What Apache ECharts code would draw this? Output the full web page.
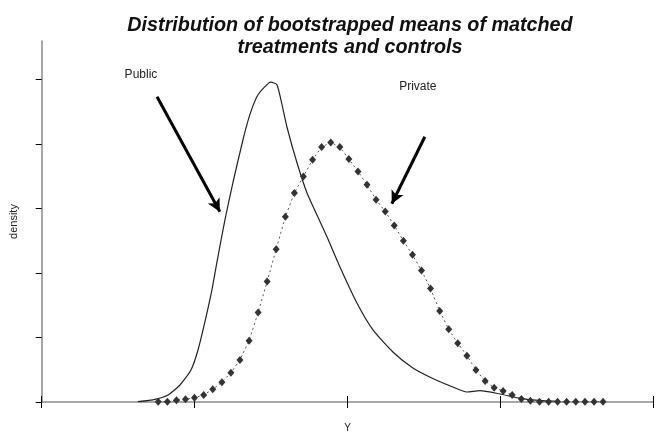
<!DOCTYPE html>
<html>
<head>
<meta charset="utf-8">
<script src="https://cdn.jsdelivr.net/npm/echarts@6/dist/echarts.min.js"></script>
<style>html,body{margin:0;padding:0;background:#fff}#c{width:657px;height:434px}</style>
</head>
<body>
<div id="c"></div>
<script>
// ---- data ----
var titleLines = ['Distribution of bootstrapped means of matched', 'treatments and controls'];
var xName = 'Y';
var yName = 'density';
var xTicks = [0, 1, 2, 3, 4];
var yTicks = [0, 1, 2, 3, 4, 5];

var publicX = [0.629,0.741,0.826,0.904,0.976,1.022,1.067,1.113,1.152,1.198,1.250,1.316,1.361,1.407,1.453,1.498,1.538,1.571,1.603,1.669,1.734,1.793,1.865,1.950,2.061,2.166,2.296,2.427,2.557,2.688,2.780,2.865,2.996,3.126,3.276,3.387];
var publicY = [0.005,0.042,0.109,0.264,0.497,0.807,1.242,1.739,2.252,2.826,3.401,4.068,4.457,4.736,4.876,4.961,4.922,4.612,4.270,3.711,3.245,2.935,2.562,2.096,1.537,1.118,0.776,0.528,0.365,0.233,0.155,0.175,0.124,0.057,0.020,0.008];

var privateX = [0.762,0.822,0.881,0.940,0.999,1.059,1.118,1.178,1.237,1.296,1.356,1.415,1.474,1.533,1.593,1.652,1.711,1.771,1.830,1.890,1.949,2.008,2.068,2.127,2.186,2.246,2.305,2.365,2.424,2.483,2.542,2.602,2.661,2.720,2.780,2.839,2.899,2.958,3.017,3.076,3.136,3.195,3.255,3.314,3.373,3.432,3.492,3.552,3.611,3.670];
var privateY = [0.005,0.005,0.026,0.042,0.067,0.109,0.197,0.306,0.455,0.652,0.952,1.387,1.868,2.371,2.873,3.241,3.499,3.758,3.955,4.027,3.955,3.768,3.576,3.370,3.137,2.955,2.738,2.500,2.283,2.039,1.760,1.413,1.128,0.911,0.719,0.497,0.326,0.222,0.171,0.109,0.047,0.020,0.005,0.005,0.005,0.005,0.005,0.005,0.005,0.005];

// annotation anchors (data coordinates)
var labelNames = ['Public', 'Private'];
var labelPos = [[0.649, 5.078], [2.459, 4.891]];
var arrowFrom = [[0.754, 4.736], [2.505, 4.115]];
var arrowTo = [[1.165, 2.950], [2.289, 3.075]];

function pairs(xs, ys) { return xs.map(function (x, i) { return [x, ys[i]]; }); }

var chart = echarts.init(document.getElementById('c'), null, { renderer: 'canvas' });
var axisGray = '#8a8a8a';
var font = '"Liberation Sans", Arial, sans-serif';

chart.setOption({
  animation: false,
  backgroundColor: '#fff',
  graphic: [{
    type: 'text',
    x: 350, y: 14,
    scaleX: 0.94,
    style: {
      text: titleLines.join('\n'),
      textAlign: 'center', textVerticalAlign: 'top',
      fontFamily: '"Liberation Sans", Arial, sans-serif',
      fontStyle: 'italic', fontWeight: 'bold',
      fontSize: 21, lineHeight: 22,
      fill: '#111'
    }
  }],
  grid: { left: 41.7, right: 3.5, top: 41, bottom: 32, containLabel: false, outerBoundsMode: 'none' },
  xAxis: [{
    type: 'value', min: xTicks[0], max: xTicks[xTicks.length - 1], interval: 1,
    name: xName, nameLocation: 'middle', nameGap: 21,
    nameTextStyle: { fontFamily: font, fontSize: 10, color: '#222' },
    axisLine: { show: true, onZero: false, lineStyle: { color: axisGray, width: 1.5 } },
    axisTick: { show: true, inside: false, length: 6, lineStyle: { color: '#000', width: 1 } },
    axisLabel: { show: false }, splitLine: { show: false }
  }, {
    type: 'value', min: xTicks[0], max: xTicks[xTicks.length - 1], interval: 1, position: 'bottom',
    axisLine: { show: false },
    axisTick: { show: true, inside: true, length: 6, lineStyle: { color: '#000', width: 1 } },
    axisLabel: { show: false }, splitLine: { show: false }
  }],
  yAxis: {
    type: 'value', min: 0, max: 5.6,
    name: yName, nameLocation: 'middle', nameGap: 22,
    nameTextStyle: { fontFamily: font, fontSize: 11, color: '#222' },
    axisLine: { show: true, onZero: false, lineStyle: { color: axisGray, width: 1.5 } },
    axisTick: { show: true, inside: false, length: 6, customValues: yTicks, lineStyle: { color: '#000', width: 1 } },
    axisLabel: { show: false }, splitLine: { show: false }
  },
  series: [{
    name: 'Public', type: 'line', xAxisIndex: 0,
    data: pairs(publicX, publicY),
    showSymbol: false, smooth: 0.2,
    lineStyle: { color: '#222', width: 1.2 },
    z: 3,
    markLine: {
      silent: true, symbol: ['none', 'arrow'], symbolSize: [10, 13],
      label: { show: false },
      lineStyle: { color: '#000', width: 3, type: 'solid' },
      data: arrowFrom.map(function (f, i) { return [{ coord: f }, { coord: arrowTo[i] }]; })
    },
    markPoint: {
      silent: true, symbol: 'circle', symbolSize: 1,
      itemStyle: { color: 'rgba(0,0,0,0)' },
      label: { show: true, position: 'inside', formatter: '{b}', fontFamily: font, fontSize: 12, color: '#222' },
      data: labelNames.map(function (n, i) { return { name: n, coord: labelPos[i] }; })
    }
  }, {
    name: 'Private', type: 'line', xAxisIndex: 0,
    data: pairs(privateX, privateY),
    showSymbol: true, symbol: 'diamond', symbolSize: [7, 8],
    itemStyle: { color: '#333' },
    lineStyle: { color: '#555', width: 1, type: [2, 3] },
    z: 4
  }]
});
</script>
</body>
</html>
